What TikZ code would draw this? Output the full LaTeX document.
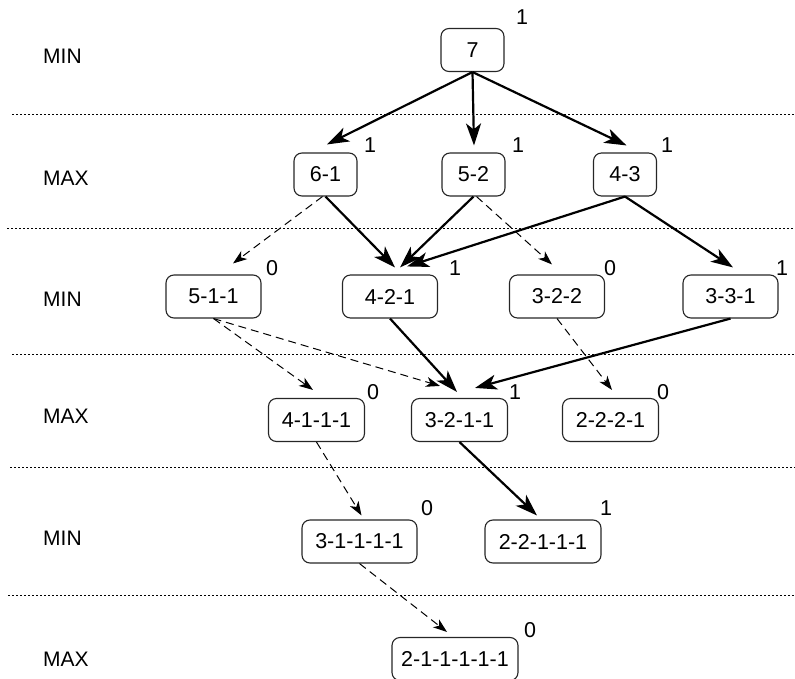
\documentclass[tikz,border=0pt]{standalone}
\usepackage{fontspec}
\setmainfont{Liberation Sans}
\usetikzlibrary{arrows.meta}
\begin{document}
\begin{tikzpicture}[
    x=1pt, y=-1pt,
    state/.style={draw=black!85, line width=1.1pt, rounded corners=8pt, minimum height=43pt, minimum width=#1, inner sep=0pt, font=\fontsize{21.5}{24}\selectfont},
    val/.style={font=\fontsize{21.5}{24}\selectfont, inner sep=0pt},
    lvl/.style={font=\fontsize{21}{24}\selectfont, inner sep=0pt, anchor=west},
    best/.style={-{Stealth[length=22pt, width=15pt, inset=6pt]}, line width=2.2pt},
    pruned/.style={-{Stealth[length=14pt, width=10pt, inset=4pt]}, line width=1pt, dash pattern=on 8pt off 5pt},
    sep/.style={line width=1pt, dash pattern=on 2pt off 2pt}
]
\useasboundingbox (0,0) rectangle (795,679);

% Level Separators
\draw[sep] (12,115) -- (795,115);
\draw[sep] (7,229) -- (795,229);
\draw[sep] (12,354) -- (795,354);
\draw[sep] (10,467) -- (795,467);
\draw[sep] (8,595) -- (795,595);

% Level Labels
\node[lvl] (l1) at (43,56) {MIN};
\node[lvl] (l2) at (43,178) {MAX};
\node[lvl] (l3) at (43,299) {MIN};
\node[lvl] (l4) at (43,416) {MAX};
\node[lvl] (l5) at (43,538) {MIN};
\node[lvl] (l6) at (43,659) {MAX};

% Game States
\node[state=63pt] (s7) at (472.5,50) {7};
\node[state=63pt] (s61) at (325.5,174.5) {6-1};
\node[state=63pt] (s52) at (473.5,174.5) {5-2};
\node[state=63pt] (s43) at (625,174.5) {4-3};
\node[state=95pt] (s511) at (213.5,296.5) {5-1-1};
\node[state=95pt] (s421) at (390,296.5) {4-2-1};
\node[state=95pt] (s322) at (557,296.5) {3-2-2};
\node[state=95pt] (s331) at (730.5,296.5) {3-3-1};
\node[state=96pt] (s4111) at (316.5,420) {4-1-1-1};
\node[state=96pt] (s3211) at (459.5,420) {3-2-1-1};
\node[state=96pt] (s2221) at (610.5,420) {2-2-2-1};
\node[state=115pt] (s31111) at (359.5,541.5) {3-1-1-1-1};
\node[state=116pt] (s22111) at (543,541.5) {2-2-1-1-1};
\node[state=126pt] (s211111) at (455,659) {2-1-1-1-1-1};

% Minimax Values
\node[val] (v7) at (522,17) {1};
\node[val] (v61) at (370,145) {1};
\node[val] (v52) at (518,145) {1};
\node[val] (v43) at (667,145) {1};
\node[val] (v511) at (272,268) {0};
\node[val] (v421) at (455,268) {1};
\node[val] (v322) at (610,268) {0};
\node[val] (v331) at (782,268) {1};
\node[val] (v4111) at (373,392) {0};
\node[val] (v3211) at (515,392) {1};
\node[val] (v2221) at (663,392) {0};
\node[val] (v31111) at (427,508) {0};
\node[val] (v22111) at (606,508) {1};
\node[val] (v211111) at (530,630) {0};

% Moves (bold = winning line, dashed = losing)
\draw[best] (s7.south) -- ([xshift=1.5pt, yshift=8pt]s61.north);
\draw[best] (s7.south) -- ([xshift=0.5pt, yshift=7pt]s52.north);
\draw[best] (s7.south) -- ([xshift=1.5pt, yshift=7pt]s43.north);
\draw[pruned] ([xshift=-3pt]s61.south) -- ([xshift=19.5pt, yshift=11pt]s511.north);
\draw[best] (s61.south) -- ([xshift=5pt, yshift=7pt]s421.north);
\draw[best] (s52.south) -- ([xshift=10pt, yshift=7pt]s421.north);
\draw[pruned] ([xshift=3pt]s52.south) -- ([xshift=-5pt, yshift=10pt]s322.north);
\draw[best] (s43.south) -- ([xshift=17pt, yshift=8pt]s421.north);
\draw[best] (s43.south) -- ([xshift=2.5pt, yshift=7pt]s331.north);
\draw[pruned] (s511.south) -- ([xshift=-3.5pt, yshift=8pt]s4111.north);
\draw[pruned] (s511.south) -- ([xshift=-19.5pt, yshift=12pt]s3211.north);
\draw[best] (s421.south) -- ([xshift=-2.5pt, yshift=6pt]s3211.north);
\draw[pruned] (s322.south) -- ([xshift=1.5pt, yshift=8pt]s2221.north);
\draw[best] (s331.south) -- ([xshift=15.5pt, yshift=10pt]s3211.north);
\draw[pruned] (s4111.south) -- ([xshift=2pt, yshift=4pt]s31111.north);
\draw[best] (s3211.south) -- ([xshift=-6pt, yshift=4pt]s22111.north);
\draw[pruned] (s31111.south) -- ([xshift=-8pt, yshift=5pt]s211111.north);

\end{tikzpicture}
\end{document}
